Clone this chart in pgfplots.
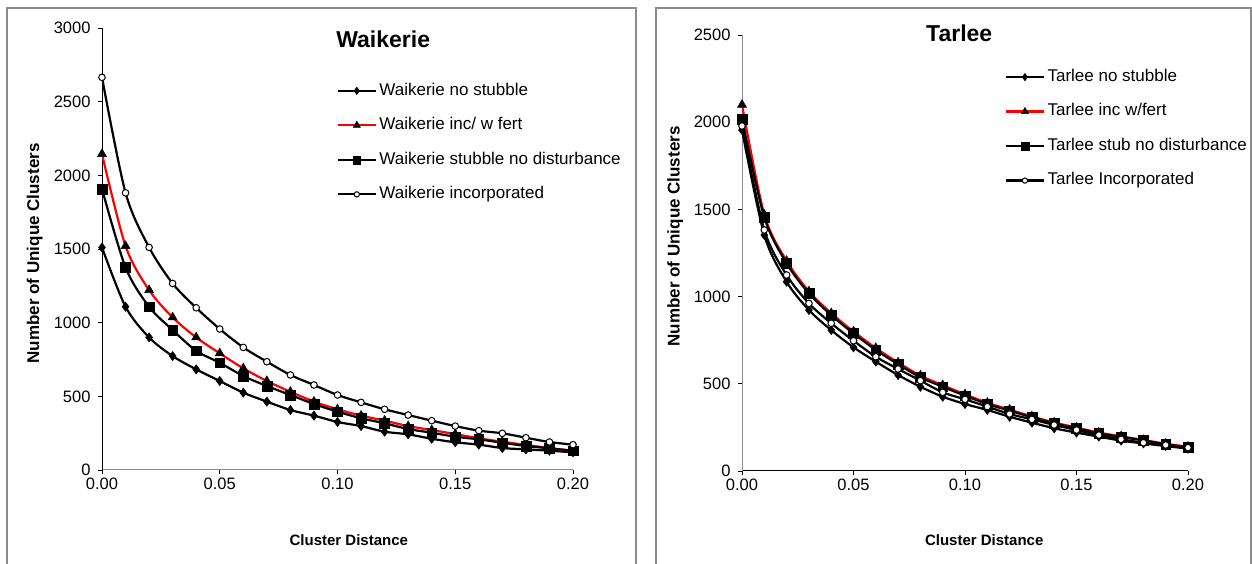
\documentclass[border=0pt]{standalone}
\usepackage{fontspec}
\setmainfont{Liberation Sans}
\usepackage{pgfplots}
\usepackage{pgfplotstable}
\pgfplotsset{compat=1.18}

\definecolor{framegray}{RGB}{140,140,140}

% x = cluster distance; ns = no stubble, inc = incorporated w/ fert,
% stub = stubble no disturbance, incorp = incorporated
\pgfplotstableread{
x     ns    inc   stub  incorp
0.00  1510  2145  1908  2665
0.01  1108  1520  1375  1881
0.02  900   1221  1108  1511
0.03  773   1036  950   1266
0.04  683   900   809   1101
0.05  604   792   728   957
0.06  525   690   638   832
0.07  464   604   570   735
0.08  407   531   509   645
0.09  369   464   448   577
0.10  326   412   396   509
0.11  298   369   351   459
0.12  260   335   317   412
0.13  242   298   278   373
0.14  212   271   253   335
0.15  188   244   226   298
0.16  172   215   208   267
0.17  149   192   185   249
0.18  140   170   163   219
0.19  131   149   147   190
0.20  120   129   131   172
}\waikerie

\pgfplotstableread{
x     ns    inc   stub  incorp
0.00  1955  2100  2018  1978
0.01  1353  1470  1455  1382
0.02  1085  1205  1191  1124
0.03  923   1030  1019  961
0.04  808   905   894   847
0.05  709   800   789   747
0.06  627   705   694   655
0.07  550   622   612   585
0.08  483   547   537   518
0.09  426   492   483   451
0.10  384   440   432   411
0.11  350   391   384   369
0.12  311   352   346   327
0.13  277   313   308   296
0.14  245   278   273   264
0.15  220   249   245   235
0.16  197   220   216   206
0.17  174   199   195   182
0.18  158   178   175   162
0.19  143   156   153   149
0.20  128   139   136   134
}\tarlee

\pgfplotsset{
  clusterax/.style={
    scale only axis, anchor=south west,
    xmin=0, xmax=0.2, ymin=0,
    axis lines=left, axis line style={-, line width=1pt},
    tick align=outside, major tick length=4pt,
    tick style={black, line width=0.8pt},
    xtick={0,0.05,0.1,0.15,0.2},
    xticklabel style={/pgf/number format/.cd, fixed, fixed zerofill, precision=2, assume math mode=true},
    yticklabel style={xshift=-4pt, /pgf/number format/.cd, 1000 sep={}, assume math mode=true},
    tick label style={font=\fontsize{16.5}{18}\selectfont},
    xlabel={Cluster Distance}, ylabel={Number of Unique Clusters},
    xlabel style={anchor=center, font=\bfseries\fontsize{15}{17}\selectfont},
    ylabel style={anchor=center, font=\bfseries\fontsize{17}{19}\selectfont},
    title style={anchor=west, font=\bfseries\fontsize{23}{26}\selectfont},
    legend cell align=left,
    legend style={draw=none, fill=none, inner sep=0pt, anchor=north west,
      font=\fontsize{17}{19}\selectfont, row sep=17pt, column sep=2pt,
      nodes={inner sep=1pt, text height=12pt, text depth=3.5pt}},
    legend image code/.code={
      \draw[mark repeat=2, mark phase=2, #1, every mark/.append style={scale=0.8}]
        plot coordinates {(0pt,0pt) (18.5pt,0pt) (37pt,0pt)};
    },
  },
  ser/.style={line width=2.2pt, smooth, tension=0.5},
  ns/.style={ser, black, mark=diamond*, mark size=4.6pt, mark options={solid, line width=0.5pt, fill=black}},
  inc/.style={ser, red, mark=triangle*, mark size=5.2pt, mark options={solid, line width=0.5pt, draw=black, fill=black}},
  stub/.style={ser, black, mark=square*, mark size=4.9pt, mark options={solid, line width=0.5pt, fill=black}},
  incorp/.style={ser, black, mark=*, mark size=3.3pt, mark options={solid, line width=1pt, fill=white}},
}

\begin{document}
\begin{tikzpicture}
\useasboundingbox (0pt,0pt) rectangle (1252pt,564pt);
\draw[framegray, line width=1.2pt] (7pt,-2pt) -- (7pt,556pt) -- (636pt,556pt) -- (636pt,-2pt);
\draw[framegray, line width=1.2pt] (656pt,-2pt) -- (656pt,556pt) -- (1251pt,556pt) -- (1251pt,-2pt);

\begin{axis}[clusterax,
  at={(102pt,94pt)}, width=471pt, height=442pt,
  ymax=3000, ytick={0,500,1000,1500,2000,2500,3000},
  x axis line style={framegray},
  xlabel style={at={(axis description cs:0.524,-0.158)}},
  ylabel style={at={(axis description cs:-0.143,0.49)}},
  title={Waikerie}, title style={at={(rel axis cs:0.49,0.962)}},
  legend style={at={(rel axis cs:0.499,0.878)}},
]
\addplot[ns] table[x=x, y=ns] {\waikerie};
\addplot[inc] table[x=x, y=inc] {\waikerie};
\addplot[stub] table[x=x, y=stub] {\waikerie};
\addplot[incorp] table[x=x, y=incorp] {\waikerie};
\legend{Waikerie no stubble, Waikerie inc/ w fert, Waikerie stubble no disturbance, Waikerie incorporated}
\end{axis}

\begin{axis}[clusterax,
  at={(742pt,93pt)}, width=446pt, height=436pt,
  ymax=2500, ytick={0,500,1000,1500,2000,2500},
  y axis line style={framegray},
  xlabel style={at={(axis description cs:0.543,-0.158)}},
  ylabel style={at={(axis description cs:-0.150,0.538)}},
  title={Tarlee}, title style={at={(rel axis cs:0.405,0.991)}},
  legend style={at={(rel axis cs:0.590,0.924)}},
]
\addplot[ns] table[x=x, y=ns] {\tarlee};
\addplot[inc] table[x=x, y=inc] {\tarlee};
\addplot[stub] table[x=x, y=stub] {\tarlee};
\addplot[incorp] table[x=x, y=incorp] {\tarlee};
\legend{Tarlee no stubble, Tarlee inc w/fert, Tarlee stub no disturbance, Tarlee Incorporated}
\end{axis}
\end{tikzpicture}
\end{document}
